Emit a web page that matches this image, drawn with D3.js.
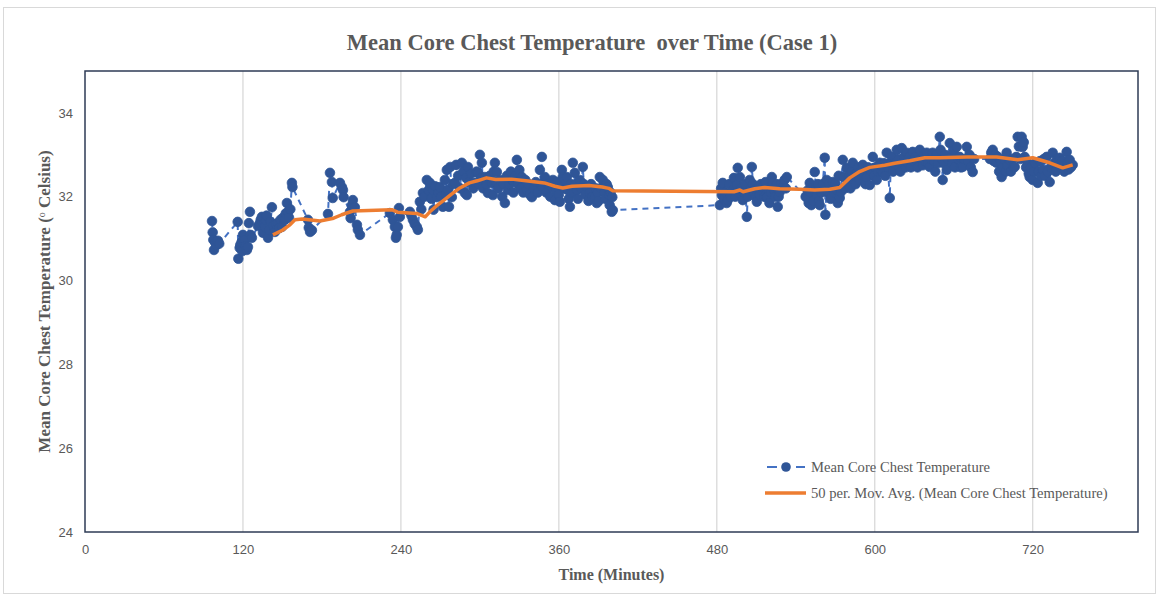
<!DOCTYPE html>
<html>
<head>
<meta charset="utf-8">
<script src="https://d3js.org/d3.v7.min.js"></script>
<style>
  body { margin: 0; background: #ffffff; }
  .axisText { font-family: "Liberation Serif", "Times New Roman", serif; font-weight: bold; fill: #595959; }
  .tick text { font-family: "Liberation Sans", Arial, sans-serif; font-size: 13px; fill: #595959; }
</style>
</head>
<body>
<div class="chart"></div>
<script>
// tick values for both axes
var xTicks = [0, 120, 240, 360, 480, 600, 720];
var yTicks = [24, 26, 28, 30, 32, 34];

// measured points: [time (min), mean core chest temperature]
var clusterA = [[96.5,31.42],[97,31.15],[97.5,30.97],[98,30.73],[99,30.9],[100,30.85],[101,30.95],[102,30.88]];
var clusterB = [[116,31.40],[116.5,30.52],[117.5,30.78],[118,30.85],[119,30.92],[119.5,30.7],[120,31.09],[120.5,30.95],
  [121.5,30.97],[122,30.82],[123,30.73],[123.8,30.80],[124.5,31.37],[125.3,31.64],[125.8,31.09],[126.8,31.02]];
var clusterC = [[131.4,31.3],[132.9,31.37],[133.5,31.45],[134.4,31.52],[135.2,31.14],[136,31.35],[136.7,31.28],[137.5,31.45],
  [138,31.55],[139,31.02],[140,31.2],[141,31.4],[142,31.75],[143,31.3],[144.3,31.16],[145,31.35],[146.6,31.37],[147.5,31.25],
  [148.5,31.45],[149.6,31.28],[150.5,31.5],[151.9,31.45],[152.5,31.6],[153.4,31.85],[154.2,31.64],[155,31.5],[156,31.7],
  [157.2,32.33],[157.6,32.23],[169.4,31.45],[170,31.26],[171,31.16],[172.4,31.2]];
var clusterD = [[184.6,31.59],[186.1,32.57],[187.6,32.35],[188.2,31.97],[193.7,32.33],[195.2,32.23],[196,32.16],[196.5,31.99],
  [201.3,31.64],[201.8,31.49],[202.8,31.80],[203.5,31.92],[205,31.75],[206.6,31.33],[207.3,31.21],[208.9,31.09]];
var clusterE = [[231.6,31.61],[233.9,31.45],[235.4,31.28],[236.2,31.02],[236.8,31.09],[237.7,31.28],[238.5,31.73],[239.2,31.52]];
var clusterF = [[246.8,31.64],[248,31.55],[249.1,31.45],[250.5,31.35],[252.1,31.28],[252.9,31.21],[254.4,31.88],[255.5,31.7],
  [256.7,32.09],[258,32.0],[259.7,32.40],[261,32.15],[262,32.33],[263.2,31.95],[264.3,32.16],[264.8,31.69],[266,32.25],
  [267.3,31.99],[268.5,32.1],[269.6,32.23],[270.5,32.0],[271.9,31.76],[273.4,32.40],[274.2,32.05],[274.9,32.64],[275.7,32.16]];
var clusterG = [[276.5,31.76],[277.5,32.71],[278.7,31.99],[279.5,32.3],[281,32.33],[282,32.76],[283.5,32.5],[285,32.2],
  [286.3,32.81],[287.5,32.6],[288.6,32.09],[289.5,32.45],[290.1,32.04],[290.9,32.71],[292,32.35],[293.5,32.55],[295,32.2],
  [296.2,32.33],[297.5,32.6],[298.5,32.57],[299.3,32.3],[300,33.0],[300.8,32.45],[301.5,32.81],[302.5,32.2],[303.8,32.47],
  [305,32.3],[306.1,32.09],[307.5,32.5],[309.1,32.33],[309.9,32.04],[310.5,32.6],[311.4,32.81],[312.2,32.35],[312.9,32.59]];
var clusterH = [[314,32.2],[315.5,32.4],[317,32.0],[318,32.3],[319,31.85],[320.5,32.5],[321.3,32.16],[322.5,32.3],[323.5,32.6],
  [324.3,32.40],[325.5,32.1],[327,32.5],[328.1,32.88],[329,32.3],[330,32.64],[331,32.2],[331.9,32.47],[333,32.1],[334.5,32.4],
  [335.7,32.16],[337,32.3],[338,32.05],[339.5,31.99],[341,32.2],[342.5,32.35],[344,32.1],[345.6,32.64],[346.5,32.3],
  [347.1,32.95],[348,32.2],[349.4,32.47],[350.5,32.1],[352,32.3],[353.5,32.0],[354.7,32.23],[355.5,32.4],[357,31.92],
  [358,32.15],[359,32.35],[360,32.05],[360.8,31.88],[362.3,32.64],[363,32.47],[364,32.2],[365,32.3],[366.1,32.47],
  [366.8,32.16],[367.5,31.95],[368.4,31.76],[369.2,32.3],[369.9,32.09]];
var clusterI = [[370.6,32.81],[371.5,32.1],[372.1,32.57],[373,32.3],[373.7,32.16],[374.5,31.95],[375.9,32.40],[377,32.2],
  [378.2,32.71],[379,32.3],[380,32.05],[381.3,32.23],[382.5,31.9],[383.5,32.09],[384.5,32.3],[385.5,32.0],[387.3,31.99],
  [388,32.2],[388.8,31.85],[389.5,32.1],[390.3,31.9],[391.1,32.47],[392,32.2],[393.4,32.40],[394.5,32.1],[395.5,31.95],
  [396.3,32.3],[397.2,32.23],[398,32.05],[398.6,31.80],[399.3,32.1],[400.2,31.64],[400.6,31.99],[401,31.68]];
var clusterJ = [[482.3,31.80],[483.3,32.2],[483.8,32.04],[484.5,32.33],[485.5,31.95],[486.5,32.1],[487.5,31.85],[488.3,31.92],
  [489.5,32.3],[490.5,32.0],[492.1,32.16],[493,32.45],[494,32.0],[495.2,32.28],[495.9,32.69],[496.5,32.1],[497.5,32.47],
  [498.5,32.2],[499.7,31.92],[500.5,32.1],[501.5,32.3],[502.8,31.52],[503.5,32.0],[505,32.40],[505.8,32.2],[506.6,32.71],
  [507.5,32.3],[508.8,32.16],[509.5,32.0],[510.4,31.88],[511.5,32.2],[512.5,32.05],[513.5,32.3],[514.9,32.23],[516,32.0],
  [517,32.35],[518,31.99],[519,32.2],[520,31.85],[521,32.1],[521.8,32.47],[522.5,32.33],[523.5,32.15],[524.5,32.0],
  [525.5,32.3],[526.3,31.76],[527,32.0],[527.8,32.11],[528.8,32.3],[530.1,32.23],[531.5,32.4],[532.5,32.2],[533.2,32.47]];
var clusterK = [[547.5,32.0],[548.3,31.99],[549,32.15],[549.8,31.85],[550.6,32.33],[551.3,32.1],[551.8,31.80],[552.5,32.2],
  [553.5,31.9],[554.4,32.59],[555.2,32.2],[555.9,32.04],[556.8,32.3],[557.5,31.9],[558.2,31.80],[559.5,32.1],[560.5,32.3],
  [562,32.93],[562.5,31.57],[563.5,32.40],[564.5,32.1],[565.5,32.3],[566.5,31.95],[568.1,32.35],[569,32.1],[570,32.3],
  [571.1,32.16],[571.9,31.85],[572.6,32.5],[573.4,31.97]];
var clusterL = [[574.2,32.11],[575.7,32.88],[576.5,32.47],[577.5,32.2],[578.7,32.69],[579.5,32.3],[580.5,32.5],[581.5,32.2],
  [582.5,32.6],[583.3,32.81],[584.5,32.4],[585.5,32.3],[586.3,32.57],[587.5,32.7],[588.5,32.4],[589.5,32.6],[590.9,32.76],
  [592,32.5],[593,32.3],[593.9,32.47],[595,32.7],[596.2,32.28],[597.5,32.6],[598.5,32.95],[599.5,32.5],[600.5,32.7],
  [601.5,32.4],[602.5,32.6],[603.8,32.81],[605,32.6],[606.1,32.57],[607,32.8],[608,32.5],[609.1,33.05],[610,32.7],
  [611.4,31.97],[612.2,32.8],[612.9,32.95],[614,32.6],[615,32.8],[616.7,33.12],[617.5,32.75],[618.5,32.9],[619.5,32.6],[620.5,33.16]];
var clusterM = [[621.5,32.8],[622.5,32.95],[623.5,32.7],[624.3,33.05],[625.5,32.8],[626.5,32.95],[627.5,32.7],[628.8,33.07],
  [630,32.85],[631,32.95],[632.5,32.7],[634.2,33.12],[635,32.9],[636.5,32.75],[637.5,33.0],[638.5,32.85],[639.5,33.05],
  [640.5,32.8],[641.8,32.71],[643,32.9],[644,33.05],[645,32.85],[646,32.6],[647,33.0],[648,32.8],[649.4,33.43],[650,33.12],
  [651,32.9],[651.6,32.40],[652.5,32.8],[653.5,33.0],[654.7,32.64],[655.5,32.9],[657,33.28],[658,32.95],[659,32.8],[660,33.1],
  [661,32.7],[662.3,33.19],[663.5,32.9],[664.5,32.95],[665.5,32.7],[666.8,32.71],[668,32.9],[669.9,33.19],[671,32.85],
  [672,33.0],[673,32.7],[674.4,32.59],[675.5,32.9]];
var clusterN = [[687.5,32.9],[688.5,33.05],[689.6,33.12],[690.5,32.85],[691.5,33.0],[692.6,32.81],[693.5,32.95],[694.5,32.6],
  [695.5,32.85],[696.4,32.47],[697.5,32.7],[698.5,32.9],[699.5,32.6],[700.2,33.05],[701,32.75],[702.5,32.88],[703.5,32.6],
  [704.5,32.9],[705.5,32.7],[706.3,32.71],[707.5,32.95],[708.6,33.43],[709.5,33.2],[710.5,32.9],[711.6,33.43],[712.4,33.19],
  [713.2,33.3],[713.9,32.95],[715,32.7],[716.2,32.81],[717,32.55],[717.7,32.47],[718.5,32.7],[720,32.40],[721,32.6],[722,32.8],
  [723.8,32.33],[724.5,32.6],[725.5,32.85],[726.5,32.5],[727.6,32.64],[728.5,32.9],[729.5,32.5],[730.6,32.95],[731.5,32.6],
  [732.9,32.35],[733.8,32.7],[735.2,33.05],[736.5,32.8],[737.5,32.6],[738.5,32.9],[740.5,32.93],[741.5,32.7],[742.5,32.85],
  [744,32.6],[745.8,33.07],[746.5,32.8],[747.2,32.65],[748.1,32.88],[749,32.7],[750.4,32.76]];

// 50 period moving average
var movingAvg = [[142.8,31.09],[150,31.2],[155.7,31.33],[159.5,31.45],[165,31.47],[178.5,31.42],[188,31.48],[195,31.57],
  [203.5,31.66],[233,31.69],[237.5,31.63],[252,31.6],[258.5,31.52],[262,31.64],[267,31.78],[272,31.9],[278,32.05],
  [284.8,32.21],[292,32.33],[298,32.38],[305,32.45],[312,32.41],[324,32.42],[335,32.38],[349,32.33],[357,32.25],[363,32.21],
  [370,32.25],[383,32.27],[393,32.23],[398,32.2],[401,32.14],[493,32.12],[497.5,32.16],[500,32.12],[508.8,32.19],
  [516.4,32.22],[527.8,32.19],[543,32.18],[554.4,32.16],[565.8,32.18],[573.4,32.22],[581,32.45],[588.5,32.6],[596.2,32.7],
  [607.6,32.75],[615.2,32.8],[626.6,32.86],[638,32.93],[649.4,32.93],[669.9,32.95],[692.6,32.95],[708.6,32.88],[720,32.93],
  [732.9,32.81],[742.8,32.69],[750.4,32.76]];

var seriesName = "Mean Core Chest Temperature";
var avgName = "50 per. Mov. Avg. (Mean Core Chest Temperature)";

var tempData = [].concat(clusterA, clusterB, clusterC, clusterD, clusterE, clusterF, clusterG,
  clusterH, clusterI, clusterJ, clusterK, clusterL, clusterM, clusterN);

var svgWidth = 1159;
var svgHeight = 597;

var margin = { top: 71, right: 21, bottom: 65, left: 85 };
var width = svgWidth - margin.left - margin.right;
var height = svgHeight - margin.top - margin.bottom;

var svg = d3.select(".chart")
  .append("svg")
  .attr("width", svgWidth)
  .attr("height", svgHeight);

// outer chart border
svg.append("rect")
  .attr("x", 3.5)
  .attr("y", 7.5)
  .attr("width", 1152)
  .attr("height", 586)
  .attr("fill", "#ffffff")
  .attr("stroke", "#d9d9d9");

var chartGroup = svg.append("g")
  .attr("transform", `translate(${margin.left}, ${margin.top})`);

// scales
var xScale = d3.scaleLinear().domain([0, 800]).range([0, width]);
var yScale = d3.scaleLinear().domain([24, 35]).range([height, 0]);

// vertical gridlines
chartGroup.selectAll(".grid")
  .data(xTicks.slice(1))
  .enter()
  .append("line")
  .attr("x1", d => xScale(d))
  .attr("x2", d => xScale(d))
  .attr("y1", 0)
  .attr("y2", height)
  .attr("stroke", "#d9d9d9")
  .attr("stroke-width", 1.3);

// axes, labels only
var xAxis = d3.axisBottom(xScale).tickValues(xTicks).tickSize(0).tickPadding(13);
var yAxis = d3.axisLeft(yScale).tickValues(yTicks).tickSize(0).tickPadding(12);

chartGroup.append("g")
  .attr("transform", `translate(0, ${height})`)
  .call(xAxis)
  .call(g => g.select(".domain").remove());

chartGroup.append("g")
  .call(yAxis)
  .call(g => g.select(".domain").remove());

// dashed series line
var line = d3.line()
  .x(d => xScale(d[0]))
  .y(d => yScale(d[1]));

chartGroup.append("path")
  .datum(tempData)
  .attr("d", line)
  .attr("fill", "none")
  .attr("stroke", "#4472c4")
  .attr("stroke-width", 2)
  .attr("stroke-dasharray", "6,5");

// markers
chartGroup.selectAll(".pt")
  .data(tempData)
  .enter()
  .append("circle")
  .attr("cx", d => xScale(d[0]))
  .attr("cy", d => yScale(d[1]))
  .attr("r", 4.8)
  .attr("fill", "#2f5597")
  .attr("stroke", "#2f5597")
  .attr("stroke-width", 0.8);

// moving average
chartGroup.append("path")
  .datum(movingAvg)
  .attr("d", line)
  .attr("fill", "none")
  .attr("stroke", "#ed7d31")
  .attr("stroke-width", 3.5)
  .attr("stroke-linejoin", "round");

// plot frame
chartGroup.append("rect")
  .attr("width", width)
  .attr("height", height)
  .attr("fill", "none")
  .attr("stroke", "#2e3b55")
  .attr("stroke-width", 1.5);

// title
svg.append("text")
  .attr("x", 592)
  .attr("y", 50)
  .attr("text-anchor", "middle")
  .attr("class", "axisText")
  .attr("xml:space", "preserve")
  .style("font-size", "22.5px")
  .text("Mean Core Chest Temperature  over Time (Case 1)");

// axis titles
var yTitle = svg.append("text")
  .attr("transform", `translate(50, ${margin.top + height / 2}) rotate(-90)`)
  .attr("text-anchor", "middle")
  .attr("class", "axisText")
  .style("font-size", "17px");
yTitle.append("tspan").text("Mean Core Chest Temperature (");
yTitle.append("tspan").attr("baseline-shift", "super").style("font-size", "10px").style("font-weight", "normal").text("o");
yTitle.append("tspan").text(" Celsius)");

svg.append("text")
  .attr("x", margin.left + width / 2)
  .attr("y", 580)
  .attr("text-anchor", "middle")
  .attr("class", "axisText")
  .style("font-size", "16px")
  .text("Time (Minutes)");

// legend
var legend = svg.append("g").attr("transform", "translate(765, 467)");

legend.append("line")
  .attr("x1", 2).attr("x2", 40).attr("y1", 0).attr("y2", 0)
  .attr("stroke", "#4472c4").attr("stroke-width", 2).attr("stroke-dasharray", "10,24");
legend.append("line")
  .attr("x1", 31).attr("x2", 40).attr("y1", 0).attr("y2", 0)
  .attr("stroke", "#4472c4").attr("stroke-width", 2);
legend.append("circle")
  .attr("cx", 21).attr("cy", 0).attr("r", 4.8).attr("fill", "#2f5597");
legend.append("text")
  .attr("x", 46).attr("y", 5)
  .style("font-family", "'Liberation Serif', 'Times New Roman', serif")
  .style("font-size", "14.6px")
  .attr("fill", "#595959")
  .text(seriesName);

legend.append("line")
  .attr("x1", 0).attr("x2", 41).attr("y1", 26).attr("y2", 26)
  .attr("stroke", "#ed7d31").attr("stroke-width", 3.5);
legend.append("text")
  .attr("x", 46).attr("y", 31)
  .style("font-family", "'Liberation Serif', 'Times New Roman', serif")
  .style("font-size", "14.6px")
  .attr("fill", "#595959")
  .text(avgName);
</script>
</body>
</html>
